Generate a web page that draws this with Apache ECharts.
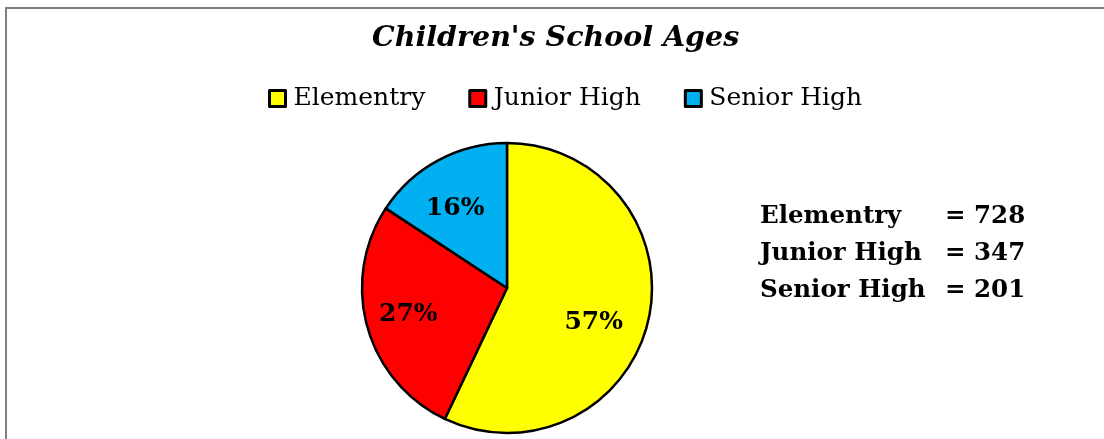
<!DOCTYPE html>
<html>
<head>
<meta charset="utf-8">
<script src="https://cdn.jsdelivr.net/npm/echarts@6/dist/echarts.min.js"></script>
<style>html,body{margin:0;padding:0;background:#fff;}#c{width:1104px;height:439px;}</style>
</head>
<body>
<div id="c"></div>
<script>
const titleText = "Children's School Ages";
const categories = ["Elementry", "Junior High", "Senior High"];
const counts = [728, 347, 201];
const colors = ["#FFFF00", "#FF0000", "#00B0F0"];
const labelOffsets = [[13, 18], [-26, 6], [-16, -13]];

const total = counts.reduce((a, b) => a + b, 0);
const chart = echarts.init(document.getElementById('c'), null, {renderer: 'canvas'});

const sideTexts = [];
categories.forEach((name, i) => {
  sideTexts.push({
    type: 'text', left: 760, top: 204 + i * 37,
    style: {text: name, font: 'bold 24.5px "DejaVu Serif"', fill: '#000'}
  });
  sideTexts.push({
    type: 'text', left: 945, top: 204 + i * 37,
    style: {text: '= ' + counts[i], font: 'bold 24.5px "DejaVu Serif"', fill: '#000'}
  });
});

chart.setOption({
  animation: false,
  backgroundColor: '#fff',
  title: {
    text: titleText,
    left: 372, top: 24,
    padding: 0,
    textStyle: {fontFamily: 'DejaVu Serif', fontStyle: 'italic', fontWeight: 'bold', fontSize: 28.5, color: '#000'}
  },
  legend: {
    data: categories,
    left: 268, top: 86,
    padding: 0,
    itemWidth: 16, itemHeight: 16,
    itemGap: 43,
    icon: 'rect',
    itemStyle: {borderColor: '#000', borderWidth: 3},
    textStyle: {fontFamily: 'DejaVu Serif', fontSize: 25, color: '#000', padding: [0, 0, 0, 3]}
  },
  graphic: [
    {type: 'rect', shape: {x: 6, y: 8, width: 1200, height: 600}, style: {fill: 'none', stroke: '#808080', lineWidth: 2}, silent: true}
  ].concat(sideTexts),
  series: [{
    type: 'pie',
    center: [507, 288],
    radius: 145,
    startAngle: 90,
    clockwise: true,
    avoidLabelOverlap: false,
    itemStyle: {borderColor: '#000', borderWidth: 2.5},
    label: {
      show: true, position: 'inside',
      fontFamily: 'DejaVu Serif', fontWeight: 'bold', fontSize: 25, color: '#000',
      formatter: p => Math.round(p.value / total * 100) + '%'
    },
    labelLine: {show: false},
    emphasis: {disabled: true},
    data: categories.map((name, i) => ({
      name: name, value: counts[i],
      itemStyle: {color: colors[i]},
      label: {offset: labelOffsets[i]}
    }))
  }]
});
</script>
</body>
</html>
